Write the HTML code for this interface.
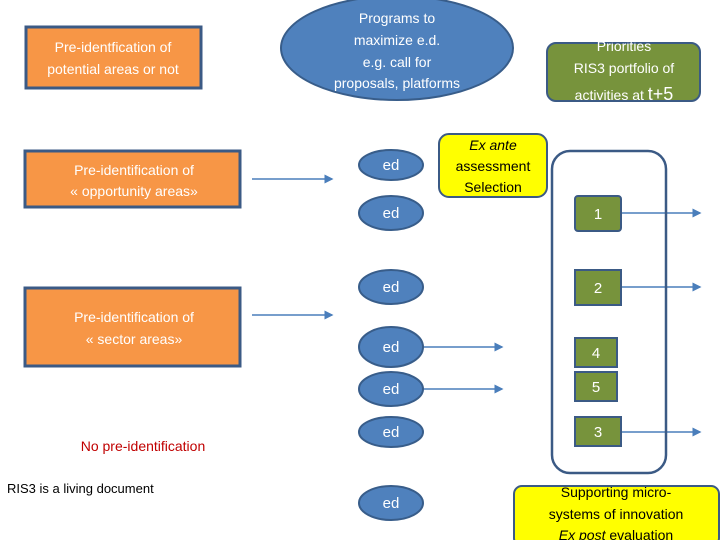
<!DOCTYPE html>
<html><head><meta charset="utf-8"><style>
body{margin:0;width:720px;height:540px;overflow:hidden;background:#fff;font-family:"Liberation Sans",sans-serif}
</style></head><body>
<svg width="720" height="540" xmlns="http://www.w3.org/2000/svg" font-family="Liberation Sans, sans-serif">
<defs><marker id="a" markerWidth="6" markerHeight="6" refX="5" refY="3" orient="auto"><path d="M0,0 L6,3 L0,6z" fill="#4a7ebb"/></marker></defs>
<g fill="#f79646" stroke="#3b5a85" stroke-width="3">
<rect x="26" y="27" width="175" height="61"/>
<rect x="25" y="151" width="215" height="56"/>
<rect x="25" y="288" width="215" height="78"/>
</g>
<g fill="#fff" font-size="14" text-anchor="middle">
<text x="113" y="52">Pre-identfication of</text><text x="113" y="74">potential areas or not</text>
<text x="134" y="175">Pre-identification of</text><text x="134" y="196">« opportunity areas»</text>
<text x="134" y="322">Pre-identification of</text><text x="134" y="344">« sector areas»</text>
</g>
<ellipse cx="397" cy="48" rx="116" ry="52" fill="#4f81bd" stroke="#385d8a" stroke-width="2"/>
<g fill="#fff" font-size="14" text-anchor="middle">
<text x="397" y="23">Programs to</text><text x="397" y="45">maximize e.d.</text><text x="397" y="67">e.g. call for</text><text x="397" y="88">proposals, platforms</text>
</g>
<rect x="547" y="43" width="153" height="58" rx="9" fill="#77933c" stroke="#3b5a85" stroke-width="2"/>
<g fill="#fff" font-size="14" text-anchor="middle">
<text x="624" y="51">Priorities</text><text x="624" y="73">RIS3 portfolio of</text><text x="624" y="100">activities  at <tspan font-size="18">t+5</tspan></text>
</g>
<text x="143" y="451" font-size="14" fill="#c00000" text-anchor="middle">No pre-identification</text>
<text x="7" y="493" font-size="13" fill="#000">RIS3 is a living document</text>
<g stroke="#4a7ebb" stroke-width="1.5" marker-end="url(#a)">
<line x1="252" y1="179" x2="332" y2="179"/><line x1="252" y1="315" x2="332" y2="315"/>
<line x1="423" y1="347" x2="502" y2="347"/><line x1="423" y1="389" x2="502" y2="389"/>
<line x1="621" y1="213" x2="700" y2="213"/><line x1="621" y1="287" x2="700" y2="287"/><line x1="621" y1="432" x2="700" y2="432"/>
</g>
<g fill="#4f81bd" stroke="#385d8a" stroke-width="2">
<ellipse cx="391" cy="165" rx="32" ry="15"/><ellipse cx="391" cy="213" rx="32" ry="17"/>
<ellipse cx="391" cy="287" rx="32" ry="17"/><ellipse cx="391" cy="347" rx="32" ry="20"/>
<ellipse cx="391" cy="389" rx="32" ry="17"/><ellipse cx="391" cy="432" rx="32" ry="15"/>
<ellipse cx="391" cy="503" rx="32" ry="17"/>
</g>
<g fill="#fff" font-size="15" text-anchor="middle">
<text x="391" y="170">ed</text><text x="391" y="218">ed</text><text x="391" y="292">ed</text><text x="391" y="352">ed</text><text x="391" y="394">ed</text><text x="391" y="437">ed</text><text x="391" y="508">ed</text>
</g>
<rect x="439" y="134" width="108" height="63" rx="10" fill="#ffff00" stroke="#3b5a85" stroke-width="2"/>
<g font-size="14" text-anchor="middle" fill="#000">
<text x="493" y="150" font-style="italic">Ex ante</text><text x="493" y="171">assessment</text><text x="493" y="192">Selection</text>
</g>
<rect x="552" y="151" width="114" height="322" rx="18" fill="none" stroke="#3b5a85" stroke-width="2.5"/>
<g fill="#77933c" stroke="#3b5a85" stroke-width="2">
<rect x="575" y="196" width="46" height="35" rx="3"/><rect x="575" y="270" width="46" height="35"/>
<rect x="575" y="338" width="42" height="29"/><rect x="575" y="372" width="42" height="29"/>
<rect x="575" y="417" width="46" height="29"/>
</g>
<g fill="#fff" font-size="15" text-anchor="middle">
<text x="598" y="219">1</text><text x="598" y="293">2</text><text x="596" y="358">4</text><text x="596" y="392">5</text><text x="598" y="437">3</text>
</g>
<rect x="514" y="486" width="205" height="60" rx="8" fill="#ffff00" stroke="#3b5a85" stroke-width="2"/>
<g font-size="14" text-anchor="middle" fill="#000">
<text x="616" y="497">Supporting micro-</text><text x="616" y="519">systems of innovation</text><text x="616" y="540"><tspan font-style="italic">Ex post</tspan> evaluation</text>
</g>
</svg>
</body></html>
